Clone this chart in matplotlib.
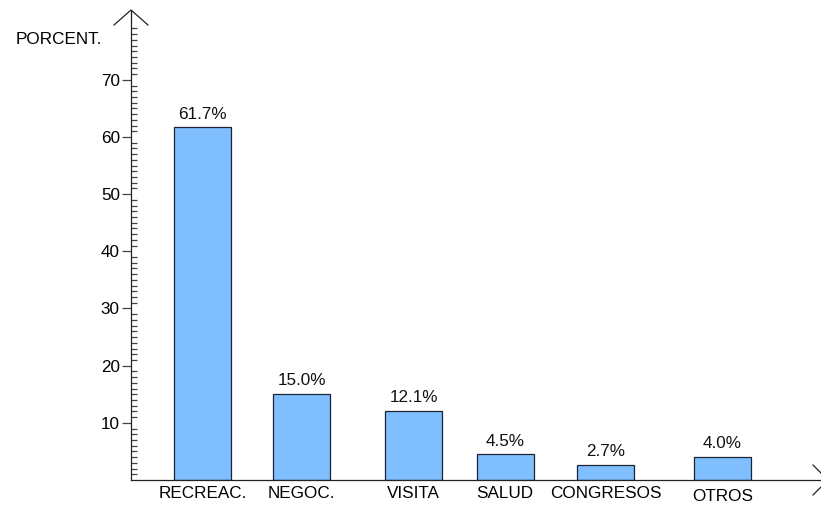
import numpy as np
import matplotlib.pyplot as plt
from matplotlib.lines import Line2D
from matplotlib.ticker import FixedLocator
from matplotlib.transforms import ScaledTranslation

plt.rcParams['font.family'] = ['Liberation Sans', 'DejaVu Sans']

categories = ["RECREAC.", "NEGOC.", "VISITA", "SALUD", "CONGRESOS", "OTROS"]
values = [61.7, 15.0, 12.1, 4.5, 2.7, 4.0]
value_labels = ["61.7%", "15.0%", "12.1%", "4.5%", "2.7%", "4.0%"]
y_ticks = [10, 20, 30, 40, 50, 60, 70]

# ----- layout (pixels of the 821x507 canvas) -----
W, H = 821, 507
x0, y0, ytop = 131, 480, 11           # axis origin and top of y arrow
px_per_unit = 5.717                    # vertical pixels per percent
xpos = [71.5, 170.5, 282.5, 374.0, 474.5, 591.5]   # bar centres, px from y axis
bar_w = 57
fs = 12.3

fig = plt.figure(figsize=(W / 100, H / 100), dpi=100)
ax = fig.add_axes([x0 / W, (H - y0) / H, (W - x0) / W, (y0 - ytop) / H])

ax.bar(xpos, values, width=bar_w, color="#80BFFF", edgecolor="#1c2333", linewidth=0.9)

for x, v, lab in zip(xpos, values, value_labels):
    ax.annotate(lab, (x, v), xytext=(0, 6.3), textcoords="offset points",
                ha="center", va="baseline", fontsize=fs, color="#111111")

ax.set_xlim(0, W - x0)
ax.set_ylim(0, (y0 - ytop) / px_per_unit)

ax.spines['top'].set_visible(False)
ax.spines['right'].set_visible(False)
for s in ['left', 'bottom']:
    ax.spines[s].set_linewidth(0.9)
    ax.spines[s].set_color("#222222")

ax.set_xticks(xpos)
ax.set_xticklabels(categories, fontsize=fs)
ax.tick_params(axis='x', length=0, pad=4.5)
# last label sits a little lower in the original
lbl = ax.get_xticklabels()[-1]
lbl.set_transform(lbl.get_transform() + ScaledTranslation(0, -3 / 100, fig.dpi_scale_trans))

ax.set_yticks(y_ticks)
ax.set_yticklabels([str(t) for t in y_ticks], fontsize=fs)
ax.yaxis.set_minor_locator(FixedLocator(np.arange(1, 80)))
ax.tick_params(axis='y', which='major', direction='out', length=6.5, width=0.9,
               color="#444444", pad=1.5)
ax.tick_params(axis='y', which='minor', direction='in', length=4.3, width=0.9,
               color="#444444")

# arrows at the ends of the axes
def px(x, y):
    return x / W, 1 - y / H

for pts in [[(114, 25), (131, 10), (148, 25)], [(813, 465), (828, 480), (813, 495)]]:
    xs, ys = zip(*[px(*p) for p in pts])
    fig.add_artist(Line2D(xs, ys, color="#222222", linewidth=0.9,
                          transform=fig.transFigure))

fig.text(*px(102, 39), "PORCENT.", ha="right", va="center", fontsize=fs)

fig.savefig("out.png", dpi=100)
